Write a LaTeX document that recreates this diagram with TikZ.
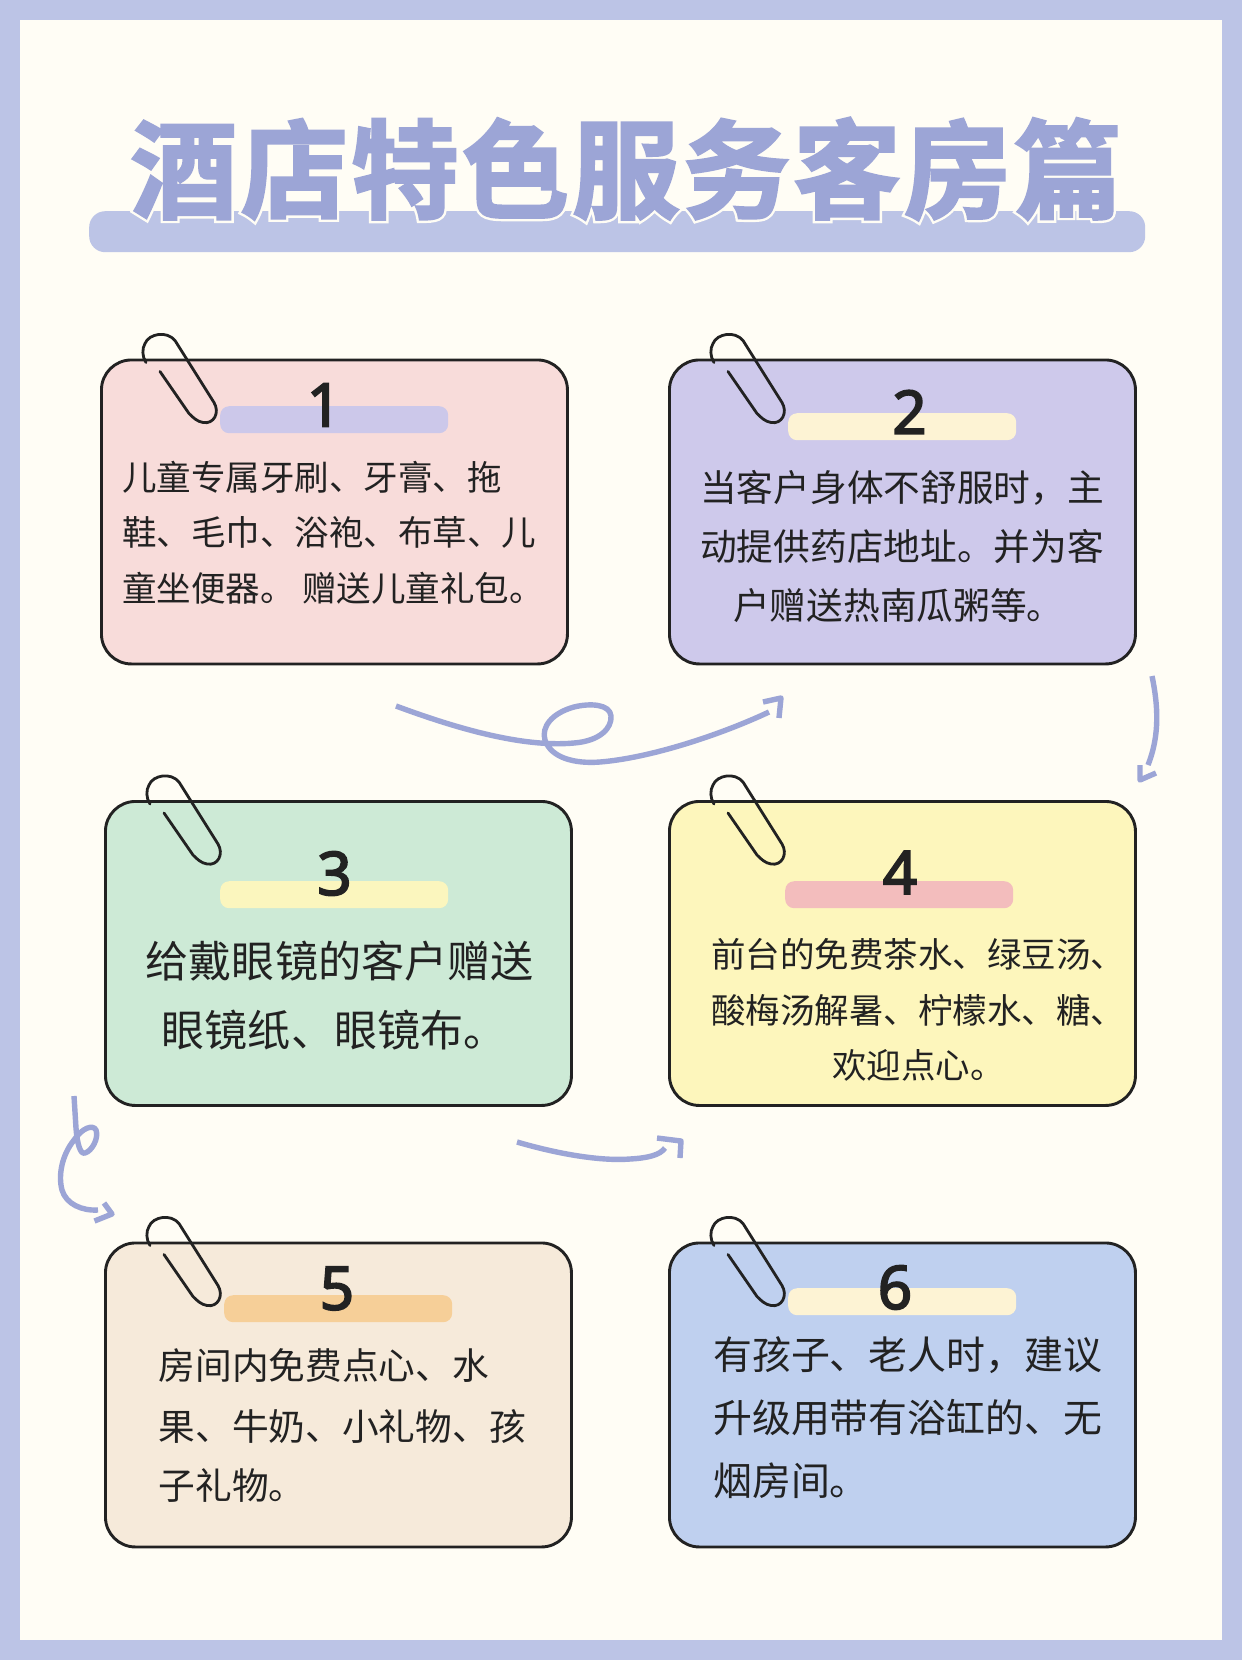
\documentclass[tikz,border=0pt]{standalone}
\usepackage{fontspec}
\setmainfont{Noto Sans CJK SC}
\newfontfamily\titlefill[LetterSpace=3.3,FakeBold=2.5]{Noto Sans CJK SC Bold}
\newfontfamily\titlehalo[LetterSpace=3.3,FakeBold=7]{Noto Sans CJK SC Bold}
\newfontfamily\numfont[FakeBold=3]{Noto Sans}
\definecolor{framec}{HTML}{BCC4E6}
\definecolor{paperc}{HTML}{FFFDF5}
\definecolor{titlec}{HTML}{9CA5D6}
\definecolor{inkc}{HTML}{222222}
\definecolor{cardA}{HTML}{F8DCDA}
\definecolor{cardB}{HTML}{CEC9EB}
\definecolor{cardC}{HTML}{CDEAD6}
\definecolor{cardD}{HTML}{FDF6BC}
\definecolor{cardE}{HTML}{F6EADA}
\definecolor{cardF}{HTML}{BFD0EF}
\definecolor{barA}{HTML}{CCC8EA}
\definecolor{barB}{HTML}{FDF3D4}
\definecolor{barC}{HTML}{FBF6BE}
\definecolor{barD}{HTML}{F3BDBD}
\definecolor{barE}{HTML}{F6CF98}
\tikzset{
  cardbox/.style={draw=inkc,line width=2.9pt,rounded corners=30pt,minimum width=466pt,minimum height=304pt,anchor=north west,inner sep=0pt},
  barbox/.style={rounded corners=9pt,minimum width=228pt,minimum height=27pt,anchor=north west,inner sep=0pt},
  numlabel/.style={font=\numfont\fontsize{60}{60}\selectfont,text=inkc,inner sep=0pt},
  bodyline/.style={anchor=west,inner sep=0pt,text=inkc},
  squiggle/.style={draw=titlec,line width=5.4pt,line join=round},
  clipline/.style={draw=inkc,line width=2.8pt,line cap=round},
  clippic/.pic={
    \draw[clipline] (46,4) .. controls (42,-2) and (42,-10) .. (45,-15)
      .. controls (49,-25) and (67,-28) .. (75,-18)
      -- (114,44) .. controls (120,54) and (114,66) .. (103,64)
      .. controls (97,63) and (93,59) .. (89,55) -- (60,13);
  }
}
\begin{document}
\begin{tikzpicture}[x=1pt,y=-1pt]
\useasboundingbox (0,0) rectangle (1242,1660);
\fill[framec] (0,0) rectangle (1242,1660);
\fill[paperc] (20,20) rectangle (1222,1640);
% title
\node[fill=framec,rounded corners=16pt,minimum width=1056pt,minimum height=41pt,inner sep=0pt,anchor=north west] (titlebar) at (89,211) {};
\node[text=paperc,font=\titlehalo\fontsize{107}{107}\selectfont,inner sep=0pt] (titlehalo) at (626,169) {酒店特色服务客房篇};
\node[text=titlec,font=\titlefill\fontsize{107}{107}\selectfont,inner sep=0pt] (titletext) at (626,169) {酒店特色服务客房篇};
% cards
\node[cardbox,fill=cardA] (c1) at (100,358.5) {};
\node[cardbox,fill=cardB] (c2) at (668,358.5) {};
\node[cardbox,fill=cardC] (c3) at (104,800) {};
\node[cardbox,fill=cardD] (c4) at (668,800) {};
\node[cardbox,fill=cardE] (c5) at (104,1241.5) {};
\node[cardbox,fill=cardF] (c6) at (668,1241.5) {};
% clips
\pic at (c1.north west) {clippic};
\pic at (c2.north west) {clippic};
\pic at (c3.north west) {clippic};
\pic at (c4.north west) {clippic};
\pic at (c5.north west) {clippic};
\pic at (c6.north west) {clippic};
% bars
\node[barbox,fill=barA] (b1) at (220,406) {};
\node[barbox,fill=barB] (b2) at (788,413) {};
\node[barbox,fill=barC] (b3) at (220,881) {};
\node[barbox,fill=barD] (b4) at (785,881) {};
\node[barbox,fill=barE] (b5) at (224,1295) {};
\node[barbox,fill=barB] (b6) at (788,1288) {};
% numbers
\node[numlabel] (n1) at (324,405) {1};
\node[numlabel] (n2) at (909.5,412) {2};
\node[numlabel] (n3) at (334.5,873.5) {3};
\node[numlabel] (n4) at (900,872.5) {4};
\node[numlabel] (n5) at (337,1288.5) {5};
\node[numlabel] (n6) at (895,1287.5) {6};
% body text
\begin{scope}[every node/.append style={bodyline,font=\fontsize{34.5}{34.5}\selectfont}]
\node (t1a) at (122,477) {儿童专属牙刷、牙膏、拖};
\node (t1b) at (122,532) {鞋、毛巾、浴袍、布草、儿};
\node (t1c) at (122,588) {童坐便器。 赠送儿童礼包。};
\end{scope}
\begin{scope}[every node/.append style={bodyline,font=\fontsize{36.7}{36.7}\selectfont}]
\node (t2a) at (700,488) {当客户身体不舒服时，主};
\node (t2b) at (700,547) {动提供药店地址。并为客};
\node (t2c) at (733,606) {户赠送热南瓜粥等。};
\end{scope}
\begin{scope}[every node/.append style={bodyline,font=\fontsize{43.1}{43.1}\selectfont}]
\node (t3a) at (145.5,961) {给戴眼镜的客户赠送};
\node (t3b) at (161.5,1030) {眼镜纸、眼镜布。};
\end{scope}
\begin{scope}[every node/.append style={bodyline,font=\fontsize{34.5}{34.5}\selectfont}]
\node (t4a) at (711,954) {前台的免费茶水、绿豆汤、};
\node (t4b) at (711,1010) {酸梅汤解暑、柠檬水、糖、};
\node (t4c) at (832,1065) {欢迎点心。};
\end{scope}
\begin{scope}[every node/.append style={bodyline,font=\fontsize{36.7}{36.7}\selectfont}]
\node (t5a) at (158.5,1366) {房间内免费点心、水};
\node (t5b) at (158.5,1426) {果、牛奶、小礼物、孩};
\node (t5c) at (158.5,1485) {子礼物。};
\end{scope}
\begin{scope}[every node/.append style={bodyline,font=\fontsize{38.9}{38.9}\selectfont}]
\node (t6a) at (713,1355) {有孩子、老人时，建议};
\node (t6b) at (713,1418) {升级用带有浴缸的、无};
\node (t6c) at (713,1481) {烟房间。};
\end{scope}
% squiggles
\coordinate (s1a) at (396,706);
\coordinate (s1b) at (769,712);
\coordinate (s2a) at (1152,676);
\coordinate (s2b) at (1148,765);
\coordinate (s3a) at (74,1096);
\coordinate (s3b) at (98,1210);
\coordinate (s4a) at (517,1142);
\coordinate (s4b) at (665,1148);
\draw[squiggle] (s1a) .. controls (450,726) and (520,748) .. (574,743)
  .. controls (600,741) and (612,728) .. (611,716)
  .. controls (610,704) and (590,703) .. (574,707)
  .. controls (552,713) and (541,727) .. (545,740)
  .. controls (551,758) and (575,764) .. (600,762)
  .. controls (650,758) and (720,735) .. (s1b);
\draw[squiggle] (763,702) -- (781,698) -- (779,718);
\draw[squiggle] (s2a) .. controls (1158,705) and (1160,735) .. (s2b);
\draw[squiggle] (1140,765) -- (1140,780) -- (1156,773);
\draw[squiggle] (s3a) -- (76,1128) .. controls (77,1142) and (80,1155) .. (85,1153)
  .. controls (92,1151) and (99,1138) .. (96,1130)
  .. controls (93,1124) and (82,1128) .. (74,1140)
  .. controls (62,1155) and (58,1175) .. (62,1190)
  .. controls (66,1204) and (82,1211) .. (s3b);
\draw[squiggle] (104,1203) -- (112,1214) -- (94.5,1221);
\draw[squiggle] (657,1138) -- (681,1141) -- (680,1158);
\draw[squiggle] (s4a) .. controls (565,1156) and (605,1161) .. (630,1159)
  .. controls (648,1158) and (660,1155) .. (s4b);
\end{tikzpicture}
\end{document}
